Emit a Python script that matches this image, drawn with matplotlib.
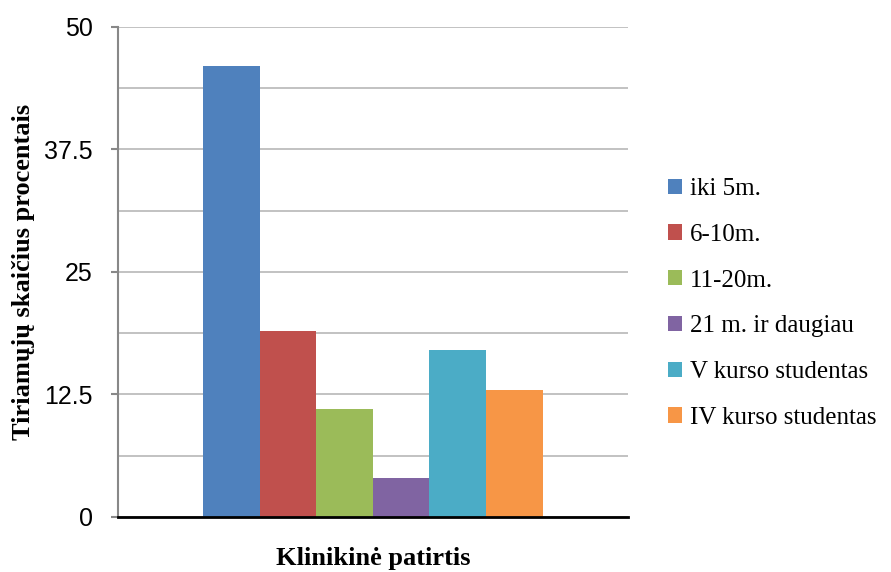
import numpy as np
import matplotlib.pyplot as plt
from matplotlib.patches import Patch

categories = ['iki 5m.', '6-10m.', '11-20m.', '21 m. ir daugiau',
              'V kurso studentas', 'IV kurso studentas']
values = [46, 19, 11, 4, 17, 13]
colors = ['#4f81bd', '#c0504d', '#9bbb59', '#8064a2', '#4bacc6', '#f79646']
yticks = [0, 12.5, 25, 37.5, 50]
ytick_labels = ['0', '12.5', '25', '37.5', '50']

fig = plt.figure(figsize=(8.91, 5.72), dpi=100)
ax = fig.add_axes([0.132, 0.0962, 0.573, 0.857])

n = len(values)
bw = 0.665 / n
x0 = -0.665 / 2 + bw / 2
for i in range(n):
    ax.bar(x0 + i * bw, values[i], width=bw, color=colors[i], zorder=3)

ax.set_xlim(-0.5, 0.5)
ax.set_ylim(0, 50)
ax.set_yticks(yticks)
ax.set_yticklabels(ytick_labels, fontsize=18, family='Liberation Sans')
ax.set_yticks(np.arange(0, 50.1, 6.25), minor=True)
ax.set_xticks([])
ax.tick_params(axis='y', which='major', direction='out', length=5, width=1.5,
               color='#888888', pad=13)
ax.tick_params(axis='y', which='minor', length=0)
ax.grid(axis='y', which='both', color='#b8b8b8', linewidth=1.2, zorder=0)

for s in ['top', 'right']:
    ax.spines[s].set_visible(False)
ax.spines['left'].set_color('#888888')
ax.spines['left'].set_linewidth(1.5)
ax.spines['bottom'].set_color('black')
ax.spines['bottom'].set_linewidth(2)
ax.spines['bottom'].set_zorder(4)

ax.set_ylabel('Tiriamųjų skaičius procentais', fontsize=19, fontweight='bold',
              family='Liberation Serif')
ax.yaxis.set_label_coords(-0.162, 0.5)
ax.set_xlabel('Klinikinė patirtis', fontsize=19, fontweight='bold',
              family='Liberation Serif')
ax.xaxis.set_label_coords(0.5, -0.062)

handles = [Patch(facecolor=c, edgecolor='none') for c in colors]
leg = fig.legend(handles, categories, loc='upper left',
                 bbox_to_anchor=(0.725, 0.728), frameon=False,
                 prop={'family': 'Liberation Serif', 'size': 18},
                 handlelength=0.55, handleheight=0.55, handletextpad=0.3,
                 labelspacing=0.95)

fig.savefig('out.png', dpi=100)
